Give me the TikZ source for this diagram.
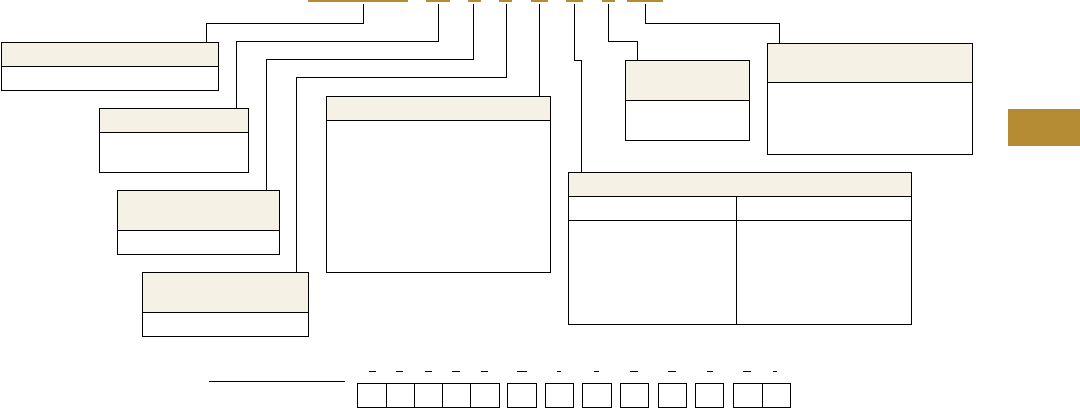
\documentclass[tikz,border=0pt]{standalone}
\usetikzlibrary{calc}

\definecolor{gold}{RGB}{181,139,51}
\definecolor{headfill}{RGB}{245,241,228}

\tikzset{
	infobox/.style={
		draw, line width=1.1pt, inner sep=0pt, anchor=north west,
		path picture={
			\fill[headfill] (path picture bounding box.north west) rectangle ([yshift=-#1pt]path picture bounding box.north east);
			\draw[line width=1.1pt] ([yshift=-#1pt]path picture bounding box.north west) -- ([yshift=-#1pt]path picture bounding box.north east);
		}
	},
	bar/.style={fill=gold, inner sep=0pt, minimum height=1.4pt, anchor=north west},
	cell/.style={draw, line width=1pt, inner sep=0pt, minimum width=28.4pt, minimum height=23.4pt, anchor=north west},
	link/.style={line width=1.1pt},
}

\begin{document}
\begin{tikzpicture}[x=1pt,y=-1pt]
\useasboundingbox (0,0) rectangle (1080,408);

% underlined fields on top
\node[bar,minimum width=100pt] (bar1) at (308,0) {};
\node[bar,minimum width=24pt] (bar2) at (426,0) {};
\node[bar,minimum width=13pt] (bar3) at (468,0) {};
\node[bar,minimum width=13pt] (bar4) at (499,0) {};
\node[bar,minimum width=17pt] (bar5) at (531,0) {};
\node[bar,minimum width=17pt] (bar6) at (566,0) {};
\node[bar,minimum width=13pt] (bar7) at (602,0) {};
\node[bar,minimum width=36pt] (bar8) at (627,0) {};

% tab on the right
\node[fill=gold, inner sep=0pt, minimum width=72.3pt, minimum height=37pt, anchor=north west] (tab) at (1007.7,108.7) {};

% boxes
\node[infobox=24,minimum width=217.5pt,minimum height=48pt] (box1) at (0.8,42.3) {};
\node[infobox=24,minimum width=149pt,minimum height=64pt] (box2) at (99.3,108.3) {};
\node[infobox=40,minimum width=162pt,minimum height=63.7pt] (box3) at (117.3,190.3) {};
\node[infobox=40,minimum width=166pt,minimum height=63.7pt] (box4) at (142.3,272.3) {};
\node[infobox=24,minimum width=224pt,minimum height=176pt] (box5) at (326.3,96.3) {};
\node[infobox=24,minimum width=343pt,minimum height=152pt] (box6) at (568.3,172.3) {};
\node[infobox=40,minimum width=123.4pt,minimum height=80pt] (box7) at (625.3,60.3) {};
\node[infobox=39.6,minimum width=204.4pt,minimum height=111.6pt] (box8) at (767.3,42.7) {};

% columns of box 6
\draw[link] ([yshift=-48pt]box6.north west) -- ([yshift=-48pt]box6.north east);
\draw[link] (736.3,196.3) -- (box6.south west -| 736.3,0);

% leader lines
\coordinate (t1) at (363.3,4);  \coordinate (a1) at (206.7,42.3);
\coordinate (t2) at (438.3,4);  \coordinate (a2) at (236.3,108.3);
\coordinate (t3) at (473.3,4);  \coordinate (a3) at (266.7,190.3);
\coordinate (t4) at (506.7,4);  \coordinate (a4) at (296.5,272.3);
\coordinate (t5) at (539.3,4);  \coordinate (a5) at (539.3,96.3);
\coordinate (t6) at (574.3,4);  \coordinate (a6) at (581.3,172.3);
\coordinate (t7) at (608.3,4);  \coordinate (a7) at (637.3,60.3);
\coordinate (t8) at (645.3,4);  \coordinate (a8) at (779.3,42.7);

\draw[link] (t1) -- ++(0,19.3) -| (a1);
\draw[link] (t2) -- ++(0,37.3) -| (a2);
\draw[link] (t3) -- ++(0,55.3) -| (a3);
\draw[link] (t4) -- ++(0,73.7) -| (a4);
\draw[link] (t5) -- (a5);
\draw[link] (t6) -- ++(0,56.3) -| (a6);
\draw[link] (t7) -- ++(0,37.3) -| (a7);
\draw[link] (t8) -- ++(0,19.3) -| (a8);

% row of cells at the bottom
\draw[line width=1pt] (209,381.3) -- (345,381.3);
\foreach \x [count=\i] in {357.3,385.5,413.7,441.9,470.1,507.3,545,582.3,620,657.7,695,733.3,761.7}
	\node[cell] (c\i) at (\x,383.3) {};
\foreach \a/\b in {369/375.7,396.3/403.3,425.3/432.3,452/459.7,480.7/488.3,516.7/527.3,556.7/561.3,594.3/599,630/638.3,668.3/675.7,706.7/712.7,743.3/750.7,772.7/777.3}
	\draw[line width=1.1pt] (\a,371.7) -- (\b,371.7);

\end{tikzpicture}
\end{document}
